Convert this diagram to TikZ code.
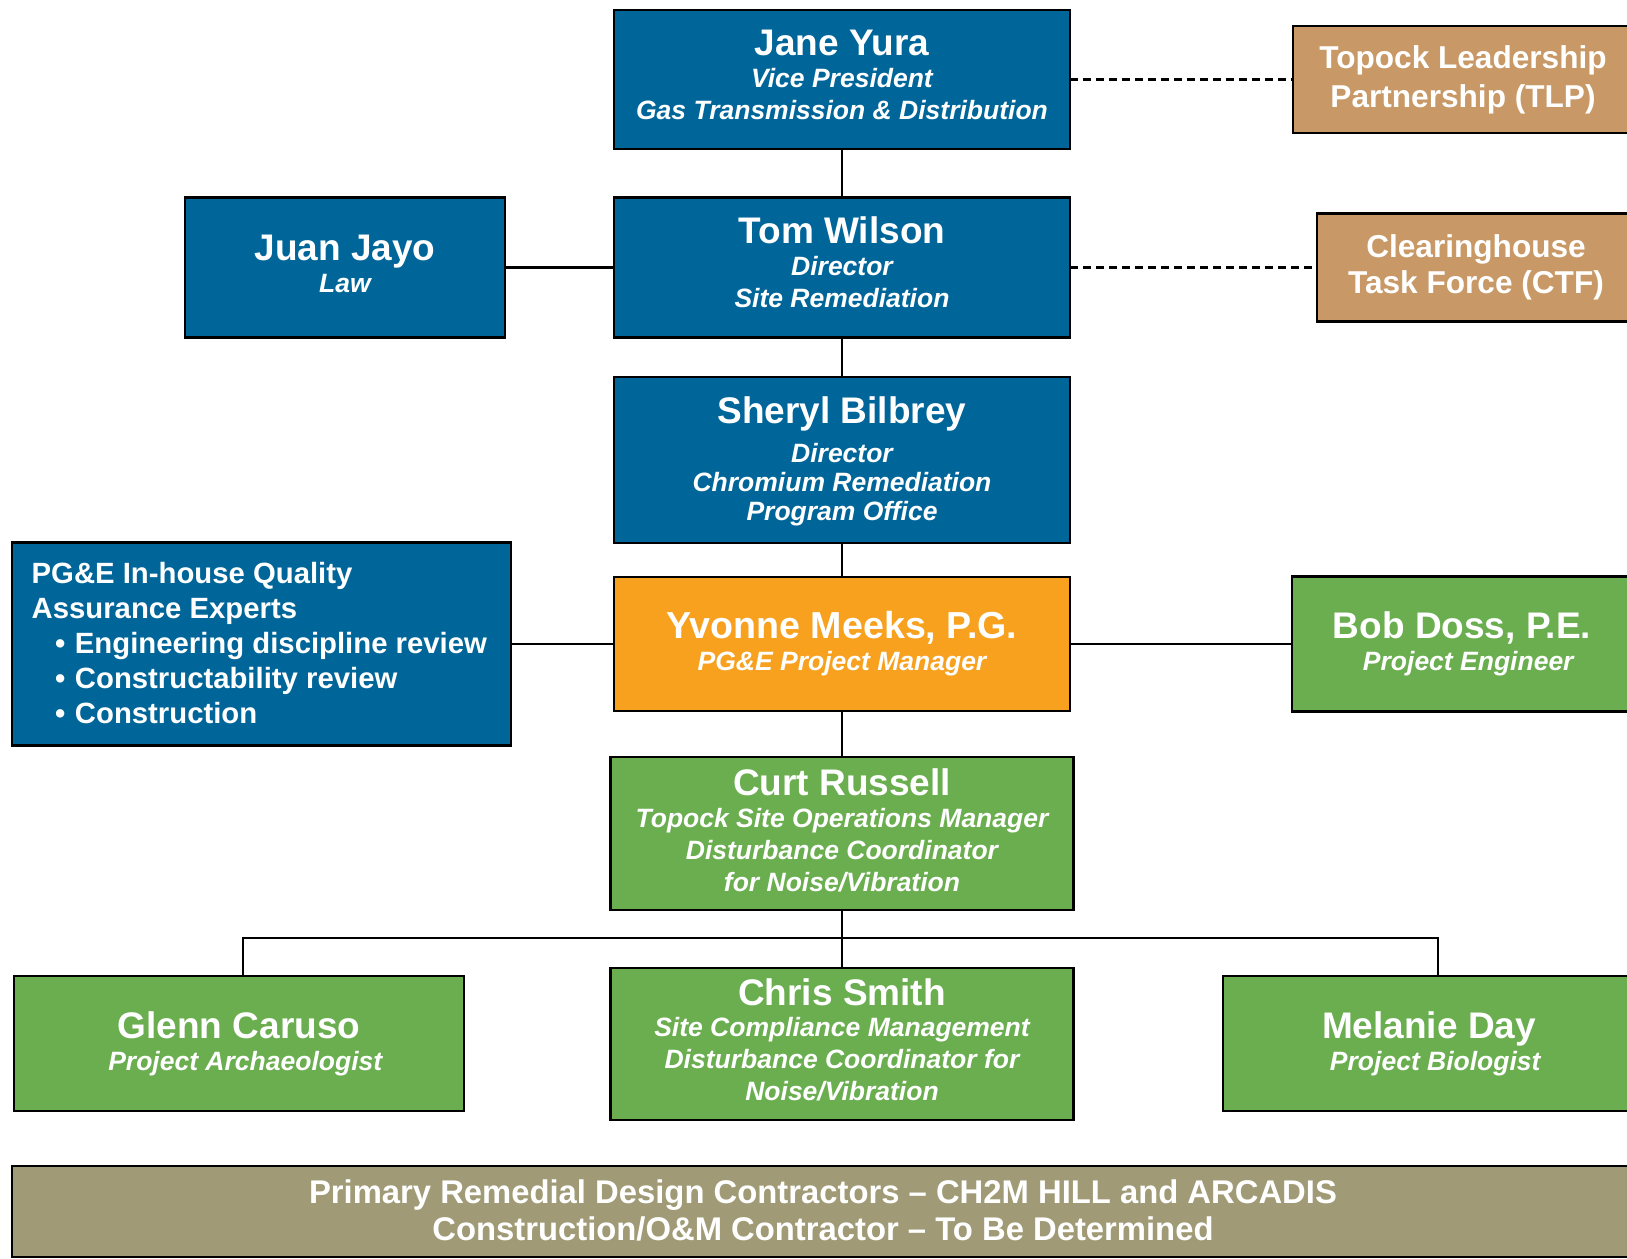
\documentclass[tikz,border=0pt]{standalone}
\usepackage{fontspec}
\setmainfont{Liberation Sans}
\definecolor{orgblue}{RGB}{0,102,153}
\definecolor{orgorange}{RGB}{247,161,31}
\definecolor{orggreen}{RGB}{106,174,80}
\definecolor{orgtan}{RGB}{200,153,102}
\definecolor{orgolive}{RGB}{160,155,118}
\newcommand\namefont{\fontsize{37}{32}\selectfont\bfseries\upshape}
\newcommand\rolefont{\fontsize{26.5}{32}\selectfont\bfseries\itshape}
% stacked lines with a fixed baseline distance; the first baseline is the box baseline
\newcommand\cstack[2]{\vtop{\baselineskip=#1\relax\lineskiplimit=-1000pt\relax
  \halign{\hfil##\hfil\cr#2\crcr}}}
\newcommand\lstack[2]{\vtop{\baselineskip=#1\relax\lineskiplimit=-1000pt\relax
  \halign{##\hfil\cr#2\crcr}}}
\begin{document}
\begin{tikzpicture}[x=1pt,y=-1pt,
  box/.style={draw=black,line width=2.6pt,inner sep=0pt,outer sep=0pt},
  bluebox/.style={box,fill=orgblue},
  greenbox/.style={box,fill=orggreen},
  tanbox/.style={box,fill=orgtan},
  txt/.style={text=white,anchor=base,inner sep=0pt,font=\rolefont},
  link/.style={draw=black,line width=2.4pt},
  partner/.style={draw=black,line width=2.2pt,dash pattern=on 8pt off 5pt}]
\useasboundingbox (0,0) rectangle (1627,1258);
\fill[white] (0,0) rectangle (1627,1258);
\clip (0,0) rectangle (1627,1258);

% boxes
\node[bluebox,minimum width=456pt,minimum height=139pt] (jane) at (842,79.5) {};
\node[bluebox,minimum width=456pt,minimum height=140pt] (tom) at (842,267.5) {};
\node[bluebox,minimum width=320pt,minimum height=140pt] (juan) at (345,267.5) {};
\node[bluebox,minimum width=456pt,minimum height=166pt] (sheryl) at (842,460) {};
\node[box,fill=orgorange,minimum width=456pt,minimum height=134pt] (yvonne) at (842,644) {};
\node[bluebox,minimum width=499pt,minimum height=203pt] (qa) at (261.5,644) {};
\node[greenbox,minimum width=340pt,minimum height=135pt] (bob) at (1462,644) {};
\node[tanbox,minimum width=340pt,minimum height=107pt] (tlp) at (1463,79.5) {};
\node[tanbox,minimum width=318pt,minimum height=108pt] (ctf) at (1476,267.5) {};
\node[greenbox,minimum width=463pt,minimum height=153pt] (curt) at (842,833.5) {};
\node[greenbox,minimum width=463pt,minimum height=152pt] (chris) at (842,1044) {};
\node[greenbox,minimum width=450pt,minimum height=135pt] (glenn) at (239,1043.5) {};
\node[greenbox,minimum width=412pt,minimum height=135pt] (melanie) at (1429,1043.5) {};
\node[box,fill=orgolive,minimum width=1622pt,minimum height=91pt] (bar) at (823,1211.5) {};

% reporting lines
\draw[link] (jane.south) -- (tom.north);
\draw[link] (tom.south) -- (sheryl.north);
\draw[link] (sheryl.south) -- (yvonne.north);
\draw[link] (yvonne.south) -- (curt.north);
\draw[link] (curt.south) -- (chris.north);
\draw[link] (juan.east) -- (tom.west);
\draw[link] (qa.east) -- (yvonne.west);
\draw[link] (yvonne.east) -- (bob.west);
\coordinate (busL) at (243,938);
\coordinate (busR) at (1438,938);
\draw[link] (busL |- glenn.north) -- (busL) -- (busR) -- (busR |- melanie.north);
\draw[partner] (jane.east) -- (jane.east -| tlp.west);
\draw[partner] (tom.east) -- (tom.east -| ctf.west);

% texts
\node[txt] (jane-t) at (842,55)
  {\cstack{32pt}{{\namefont Jane Yura}\cr Vice President\cr Gas Transmission \& Distribution}};
\node[txt] (tom-t) at (842,243.3)
  {\cstack{32pt}{{\namefont Tom Wilson}\cr Director\cr Site Remediation}};
\node[txt] (juan-t) at (345,260)
  {\cstack{32pt}{{\namefont Juan Jayo}\cr Law}};
\node[txt] (sheryl-t) at (842,423)
  {\cstack{28.8pt}{{\namefont Sheryl Bilbrey}\cr\noalign{\kern11pt}Director\cr Chromium Remediation\cr Program Office}};
\node[txt] (yvonne-t) at (842,638.5)
  {\cstack{31.5pt}{{\namefont\fontsize{37.6}{32}\selectfont Yvonne Meeks, P.G.}\cr PG\&E Project Manager}};
\node[txt] (bob-t) at (1462,638)
  {\cstack{32pt}{{\namefont Bob Doss, P.E.}\cr\hspace*{12.5pt}Project Engineer}};
\node[txt,anchor=base west,font=\fontsize{29.3}{35}\selectfont\bfseries] (qa-t) at (31.5,583)
  {\lstack{35pt}{PG\&E In-house Quality\cr Assurance Experts\cr
   \hspace*{23.5pt}•\hspace{9.5pt}Engineering discipline review\cr
   \hspace*{23.5pt}•\hspace{9.5pt}Constructability review\cr
   \hspace*{23.5pt}•\hspace{9.5pt}Construction}};
\node[txt,font=\fontsize{31.6}{39}\selectfont\bfseries] (tlp-t) at (1463,68)
  {\cstack{39pt}{Topock Leadership\cr Partnership (TLP)}};
\node[txt,font=\fontsize{31.6}{36}\selectfont\bfseries] (ctf-t) at (1476,257)
  {\cstack{36.5pt}{Clearinghouse\cr Task Force (CTF)}};
\node[txt] (curt-t) at (842,795)
  {\cstack{32pt}{{\namefont Curt Russell}\cr Topock Site Operations Manager\cr Disturbance Coordinator\cr for Noise/Vibration}};
\node[txt] (chris-t) at (842,1005)
  {\cstack{31.7pt}{{\namefont Chris Smith}\cr Site Compliance Management\cr Disturbance Coordinator for\cr Noise/Vibration}};
\node[txt] (glenn-t) at (239,1038)
  {\cstack{32pt}{{\namefont Glenn Caruso}\cr\hspace*{12.5pt}Project Archaeologist}};
\node[txt] (melanie-t) at (1429,1038)
  {\cstack{32pt}{{\namefont Melanie Day}\cr\hspace*{12.5pt}Project Biologist}};
\node[txt,font=\fontsize{32.8}{37}\selectfont\bfseries] (bar-t) at (823,1203)
  {\cstack{37pt}{Primary Remedial Design Contractors – CH2M HILL and ARCADIS\cr Construction/O\&M Contractor – To Be Determined}};
\end{tikzpicture}
\end{document}
